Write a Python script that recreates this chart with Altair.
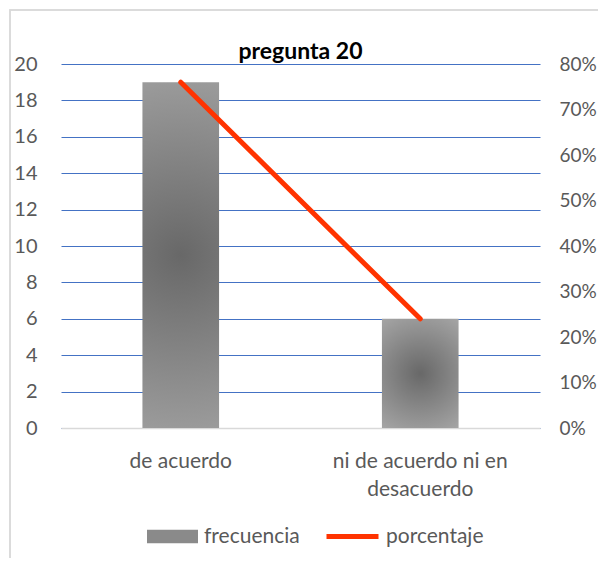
import altair as alt
import pandas as pd

categorias = ["de acuerdo", "ni de acuerdo ni en desacuerdo"]
frecuencia = [19, 6]
porcentaje = [0.76, 0.24]
y_left_ticks = [0, 2, 4, 6, 8, 10, 12, 14, 16, 18, 20]
y_right_ticks = [0, 0.1, 0.2, 0.3, 0.4, 0.5, 0.6, 0.7, 0.8]

df = pd.DataFrame({"cat": categorias, "frecuencia": frecuencia, "porcentaje": porcentaje})

FONT = "Lato"
GRAY = "#595959"

x_enc = alt.X(
    "cat:N",
    sort=categorias,
    title=None,
    scale=alt.Scale(paddingInner=0.68, paddingOuter=0.34),
    axis=alt.Axis(
        labelAngle=0,
        labelFontSize=21,
        labelColor=GRAY,
        labelFont=FONT,
        labelPadding=22,
        labelLineHeight=28,
        ticks=False,
        domainColor="#d9d9d9",
        domainWidth=1.5,
        labelExpr="datum.label == 'ni de acuerdo ni en desacuerdo' ? ['ni de acuerdo ni en', 'desacuerdo'] : datum.label",
    ),
)

grad = alt.RadialGradient(
    gradient="radial",
    stops=[
        alt.GradientStop(color="#686868", offset=0),
        alt.GradientStop(color="#a6a6a6", offset=1),
    ],
    x1=0.5, y1=0.5, r1=0, x2=0.5, y2=0.5, r2=0.62,
)

y_left_axis = alt.Axis(
    orient="left",
    values=y_left_ticks,
    labelFontSize=20,
    labelColor=GRAY,
    labelFont=FONT,
    labelPadding=24,
    ticks=False,
    domain=False,
    grid=True,
    gridColor="#4472c4",
    gridWidth=1,
)

bars = alt.Chart(df).mark_bar(fill=grad).encode(
    x=x_enc,
    y=alt.Y("frecuencia:Q", title=None, scale=alt.Scale(domain=[0, 20]), axis=y_left_axis),
)

bars_legend = alt.Chart(df).mark_bar(opacity=0).encode(
    x=x_enc,
    y=alt.Y("frecuencia:Q", title=None, scale=alt.Scale(domain=[0, 20]), axis=None),
    fill=alt.Fill(
        "s:N",
        scale=alt.Scale(domain=["frecuencia"], range=["#8a8a8a"]),
        legend=alt.Legend(
            title=None,
            orient="none",
            legendX=86,
            legendY=447,
            symbolType="M-1,-0.26H1V0.26H-1Z",
            symbolSize=2601,
            symbolOpacity=1,
            symbolStrokeWidth=0,
            labelFontSize=21,
            labelColor=GRAY,
            labelFont=FONT,
            labelOffset=6,
        ),
    ),
).transform_calculate(s="'frecuencia'")

line = alt.Chart(df).mark_line(strokeWidth=5, strokeCap="round").encode(
    x=x_enc,
    y=alt.Y(
        "porcentaje:Q",
        title=None,
        scale=alt.Scale(domain=[0, 0.8]),
        axis=alt.Axis(
            orient="right",
            values=y_right_ticks,
            format=".0%",
            labelFontSize=19,
            labelColor=GRAY,
            labelFont=FONT,
            labelPadding=19,
            ticks=False,
            domain=False,
            grid=False,
        ),
    ),
    stroke=alt.Stroke(
        "s:N",
        scale=alt.Scale(domain=["porcentaje"], range=["#ff3300"]),
        legend=alt.Legend(
            title=None,
            orient="none",
            legendX=263,
            legendY=444,
            symbolType="stroke",
            symbolSize=2704,
            symbolStrokeWidth=5,
            labelFontSize=21,
            labelColor=GRAY,
            labelFont=FONT,
            labelOffset=5,
        ),
    ),
).transform_calculate(s="'porcentaje'")

frame = alt.Chart(df).mark_rect(fill=None, stroke="#d9d9d9", strokeWidth=1.5).encode(
    x=alt.value(-51), x2=alt.value(620), y=alt.value(-54), y2=alt.value(620)
)

chart = (
    alt.layer(frame, bars_legend, bars, line)
    .resolve_scale(y="independent", fill="independent", stroke="independent")
    .properties(
        width=479,
        height=364,
        title=alt.TitleParams(
            "pregunta 20",
            fontSize=23,
            font=FONT,
            fontWeight="bold",
            color="#000000",
            offset=3,
            dy=58,
            anchor="middle",
            frame="group",
        ),
        autosize=alt.AutoSizeParams(type="none"),
        padding={"left": 53, "top": 56, "right": 58, "bottom": 130},
    )
    .configure_view(stroke=None)
)

chart.save("out.html", embed_options={"renderer": "svg", "actions": False})
